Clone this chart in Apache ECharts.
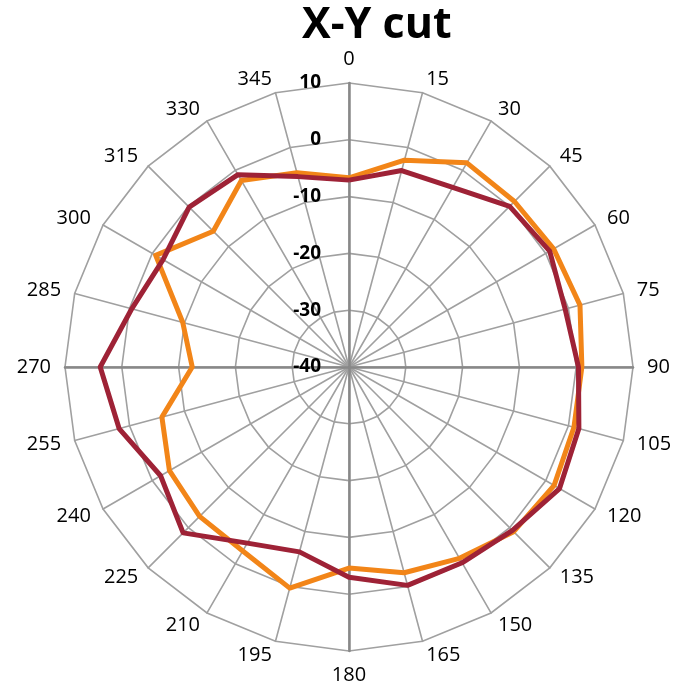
<!DOCTYPE html>
<html>
<head>
<meta charset="utf-8">
<script src="https://cdn.jsdelivr.net/npm/echarts@6/dist/echarts.min.js"></script>
<style>
  html, body { margin: 0; padding: 0; background: #fff; }
  #chart { width: 674px; height: 692px; }
</style>
</head>
<body>
<div id="chart"></div>
<script>
// angles clockwise from top, values in dB
const angles = [0, 15, 30, 45, 60, 75, 90, 105, 120, 135, 150, 165, 180, 195, 210, 225, 240, 255, 270, 285, 300, 315, 330, 345]
const orangeVals = [-6.7, -2.3, 1.5, 1.2, 1.6, 2.1, 1.0, 1.0, 1.7, 1.0, -1.1, -2.5, -4.6, 0.3, -2.6, -2.8, -3.5, -5.9, -12.4, -9.7, -0.7, -6.2, -2.1, -4.6]
const maroonVals = [-7.1, -4.2, -3.5, 0.0, 0.8, -0.6, 0.4, 1.9, 2.8, 0.7, -0.2, -0.2, -3.0, -6.3, -4.2, 1.3, -1.7, 1.9, 3.8, -0.4, -2.2, -0.2, -0.9, -5.3]
const mainAxes = [0, 270, 180, 90]
const rMin = -40, rMax = 10

// radar runs counterclockwise, so reverse order after the first to get clockwise
const order = [0].concat(angles.slice(1).map((_, i) => angles.length - 1 - i))
const indicator = order.map(i => ({ name: String(angles[i]), min: rMin, max: rMax }))
const pick = arr => order.map(i => arr[i])

const font = '"Open Sans", sans-serif'
const chart = echarts.init(document.getElementById('chart'))
chart.setOption({
  animation: false,
  title: {
    text: 'X-Y cut', left: 302, top: 4, padding: 0,
    textStyle: { fontFamily: font, fontSize: 43, fontWeight: 'bold', color: '#000' }
  },
  radar: [{
    center: [349, 367], radius: 284, startAngle: 90, shape: 'polygon', splitNumber: 5,
    indicator,
    axisName: { color: '#000', fontFamily: font, fontSize: 20 },
    nameGap: 14,
    axisLine: { lineStyle: { color: '#a0a0a0', width: 1.6 } },
    splitLine: { lineStyle: { color: '#a0a0a0', width: 1.6 } },
    splitArea: { show: false },
    axisLabel: { show: false }
  }, {
    center: [349, 367], radius: 284, startAngle: 90, shape: 'polygon', splitNumber: 5,
    indicator: mainAxes.map(a => ({ name: String(a), min: rMin, max: rMax })),
    axisName: { show: false },
    axisLine: { lineStyle: { color: '#888', width: 2.5 } },
    splitLine: { show: false },
    splitArea: { show: false },
    axisLabel: { show: false }
  }],
  grid: { left: 349, top: 83, width: 10, height: 284 },
  xAxis: { type: 'value', show: false },
  yAxis: {
    type: 'value', min: rMin, max: rMax, interval: 10,
    axisLine: { show: false }, axisTick: { show: false }, splitLine: { show: false },
    axisLabel: { margin: 28, color: '#000', fontFamily: font, fontSize: 19, fontWeight: 'bold' }
  },
  series: [{
    type: 'radar', radarIndex: 0, symbol: 'none',
    lineStyle: { color: '#f28518', width: 5 },
    data: [{ value: pick(orangeVals), name: 'orange' }]
  }, {
    type: 'radar', radarIndex: 0, symbol: 'none',
    lineStyle: { color: '#9e2236', width: 5 },
    data: [{ value: pick(maroonVals), name: 'maroon' }]
  }]
})
</script>
</body>
</html>
